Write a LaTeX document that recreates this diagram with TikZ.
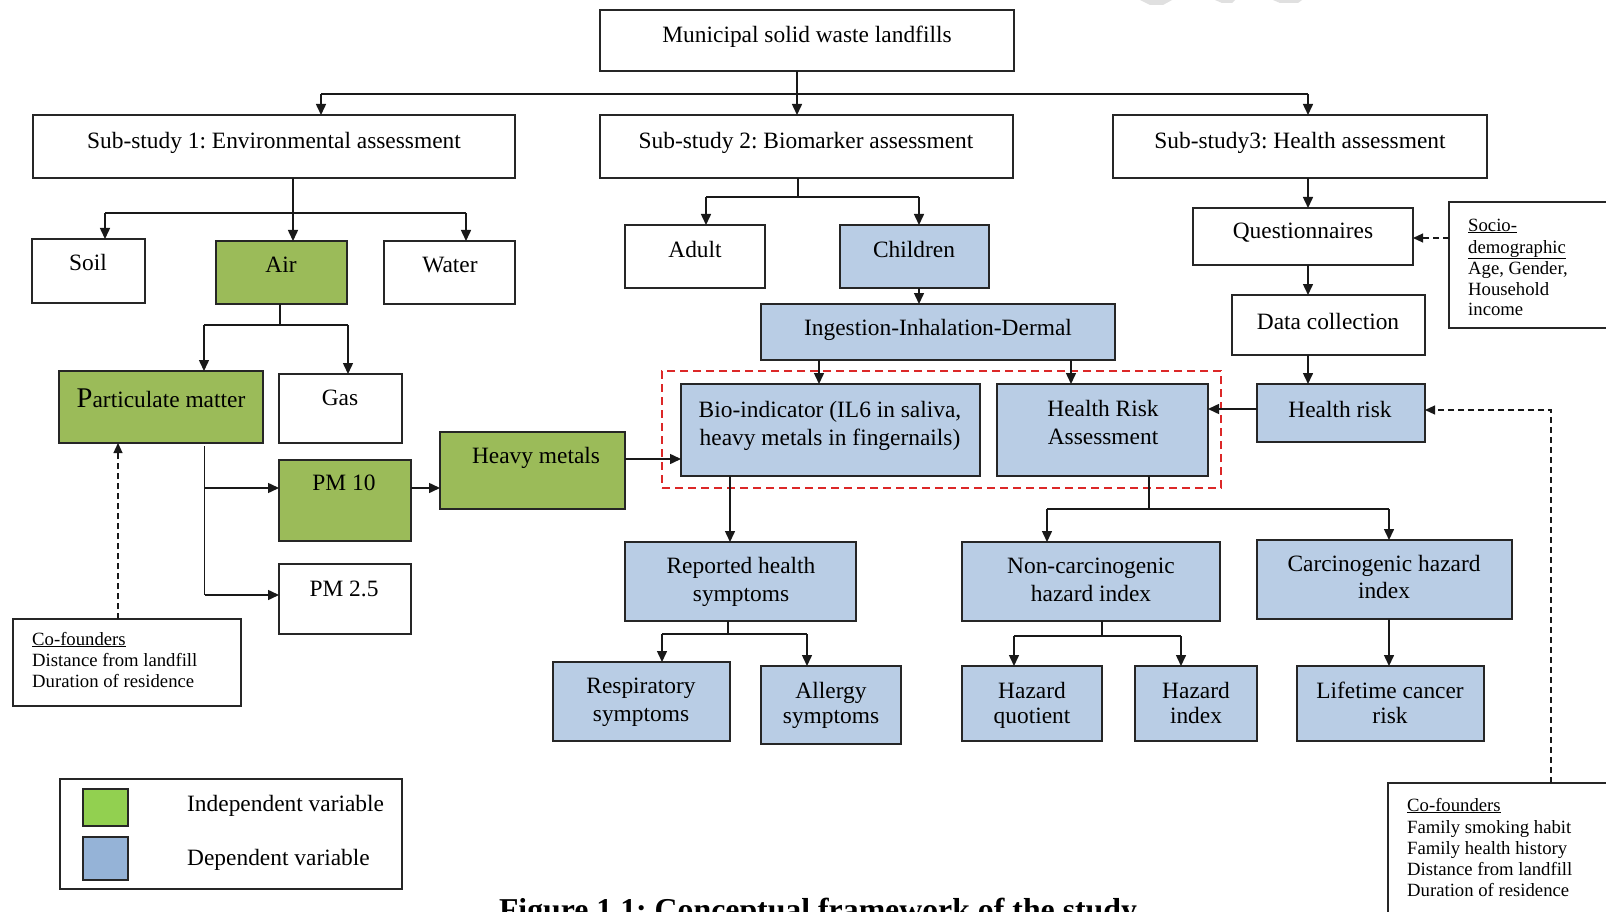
\documentclass[tikz,border=0pt]{standalone}
\usepackage{fontspec}
\setmainfont{Liberation Serif}
\usetikzlibrary{arrows.meta,calc}
\definecolor{grn}{RGB}{155,187,89}
\definecolor{blu}{RGB}{185,205,229}
\definecolor{lgrn}{RGB}{146,208,80}
\definecolor{lblu}{RGB}{149,179,215}
\definecolor{rd}{RGB}{220,40,40}
\frenchspacing
\newcommand\mainsz{\fontsize{23.4}{28}\selectfont}
\newcommand\smallsz{\fontsize{18.7}{21}\selectfont}
\newcommand\mybox[6]{\node[boxst,#6,minimum width={#4pt-#2pt},minimum height={#5pt-#3pt}] (#1) at ({(#2+#4)/2},{(#3+#5)/2}) {};}
\newcommand\mytext[4]{\node[txt] (#1) at (#2,#3) {#4};}
\newcommand\mysmall[4]{\node[stxt] (#1) at (#2,#3) {#4};}
\tikzset{
  boxst/.style={draw=black!85,line width=1.4pt,inner sep=0pt,outer sep=0pt,fill=white},
  gbox/.style={fill=grn},
  bbox/.style={fill=blu},
  wbox/.style={fill=white},
  redgroup/.style={draw=rd,fill=none,line width=1.8pt,dash pattern=on 8pt off 5pt},
  txt/.style={anchor=base,inner sep=0pt,font=\mainsz},
  stxt/.style={anchor=base west,inner sep=0pt,font=\smallsz},
  ln/.style={line width=1.5pt,draw=black!90},
  arr/.style={ln,-{Triangle[length=11pt,width=10pt]}},
  darr/.style={line width=1.2pt,draw=black!90,dash pattern=on 6pt off 4pt,-{Triangle[length=10pt,width=9pt]}},
}
\begin{document}
\begin{tikzpicture}[x=1pt,y=-1pt]
\useasboundingbox (0,0) rectangle (1606,912);
\fill[white] (0,0) rectangle (1606,912);
% faint watermark traces
\fill[black!12] (1140,0) -- (1172,0) -- (1163,5) -- (1150,5) -- cycle;
\fill[black!12] (1215,0) -- (1235,0) -- (1232,3) -- (1222,3) -- cycle;
\fill[black!12] (1273,0) -- (1302,0) -- (1298,3) -- (1280,3) -- cycle;

% red dashed group
\mybox{grp}{662}{371}{1221}{488}{redgroup}

% boxes
\mybox{muni}{600}{10}{1014}{71}{wbox}
\mybox{sub1}{33}{115}{515}{178}{wbox}
\mybox{sub2}{600}{115}{1013}{178}{wbox}
\mybox{sub3}{1113}{115}{1487}{178}{wbox}
\mybox{soil}{32}{239}{145}{303}{wbox}
\mybox{air}{216}{241}{347}{304}{gbox}
\mybox{water}{384}{241}{515}{304}{wbox}
\mybox{adult}{625}{225}{765}{288}{wbox}
\mybox{child}{840}{225}{989}{288}{bbox}
\mybox{ingest}{761}{304}{1115}{360}{bbox}
\mybox{quest}{1193}{208}{1413}{265}{wbox}
\mybox{socio}{1449}{202}{1612}{328}{wbox}
\mybox{datac}{1232}{295}{1425}{355}{wbox}
\mybox{bio}{681}{384}{980}{476}{bbox}
\mybox{hra}{997}{384}{1208}{476}{bbox}
\mybox{hrisk}{1257}{384}{1425}{442}{bbox}
\mybox{pm}{59}{371}{263}{443}{gbox}
\mybox{gas}{279}{374}{402}{443}{wbox}
\mybox{pmten}{279}{460}{411}{541}{gbox}
\mybox{heavy}{440}{432}{625}{509}{gbox}
\mybox{pmtwo}{279}{564}{411}{634}{wbox}
\mybox{cofl}{13}{619}{241}{706}{wbox}
\mybox{rep}{625}{542}{856}{621}{bbox}
\mybox{ncarc}{962}{542}{1220}{621}{bbox}
\mybox{carc}{1257}{540}{1512}{619}{bbox}
\mybox{resp}{553}{662}{730}{741}{bbox}
\mybox{allergy}{761}{666}{901}{744}{bbox}
\mybox{hq}{962}{666}{1102}{741}{bbox}
\mybox{hi}{1135}{666}{1257}{741}{bbox}
\mybox{life}{1297}{666}{1484}{741}{bbox}
\mybox{cofr}{1388}{783}{1612}{918}{wbox}
\mybox{legend}{60}{779}{402}{889}{wbox}
\mybox{lgsq}{83}{789}{128}{826}{fill=lgrn}
\mybox{lbsq}{83}{837}{128}{880}{fill=lblu}

% texts
\mytext{muniT}{807}{43}{Municipal solid waste landfills}
\mytext{sub1T}{274}{149}{Sub-study 1: Environmental assessment}
\mytext{sub2T}{806}{149}{Sub-study 2: Biomarker assessment}
\mytext{sub3T}{1300}{149}{Sub-study3: Health assessment}
\mytext{soilT}{88}{270}{Soil}
\mytext{airT}{281}{272}{Air}
\mytext{waterT}{450}{272}{Water}
\mytext{adultT}{695}{257}{Adult}
\mytext{childT}{914}{257}{Children}
\mytext{ingestT}{938}{335}{Ingestion-Inhalation-Dermal}
\mytext{questT}{1303}{239}{Questionnaires}
\mytext{datacT}{1328}{329}{Data collection}
\mytext{bioTa}{830}{417}{Bio-indicator (IL6 in saliva,}
\mytext{bioTb}{830}{445}{heavy metals in fingernails)}
\mytext{hraTa}{1103}{416}{Health Risk}
\mytext{hraTb}{1103}{444}{Assessment}
\mytext{hriskT}{1340}{417}{Health risk}
\mytext{pmT}{161}{407}{{\fontsize{28.5}{30}\selectfont P}articulate matter}
\mytext{gasT}{340}{405}{Gas}
\mytext{pmtenT}{344}{490}{PM 10}
\mytext{heavyT}{536}{463}{Heavy metals}
\mytext{pmtwoT}{344}{596}{PM 2.5}
\mytext{repTa}{741}{573}{Reported health}
\mytext{repTb}{741}{601}{symptoms}
\mytext{ncarcTa}{1091}{573}{Non-carcinogenic}
\mytext{ncarcTb}{1091}{601}{hazard index}
\mytext{carcTa}{1384}{571}{Carcinogenic hazard}
\mytext{carcTb}{1384}{598}{index}
\mytext{respTa}{641}{693}{Respiratory}
\mytext{respTb}{641}{721}{symptoms}
\mytext{allergyTa}{831}{698}{Allergy}
\mytext{allergyTb}{831}{723}{symptoms}
\mytext{hqTa}{1032}{698}{Hazard}
\mytext{hqTb}{1032}{723}{quotient}
\mytext{hiTa}{1196}{698}{Hazard}
\mytext{hiTb}{1196}{723}{index}
\mytext{lifeTa}{1390}{698}{Lifetime cancer}
\mytext{lifeTb}{1390}{723}{risk}
\node[txt,anchor=base west] (lgT1) at (187,811) {Independent variable};
\node[txt,anchor=base west] (lgT2) at (187,865) {Dependent variable};

\mysmall{socT1}{1468}{231}{\underline{Socio-}}
\mysmall{socT2}{1468}{253}{\underline{demographic}}
\mysmall{socT3}{1468}{274}{Age, Gender,}
\mysmall{socT4}{1468}{295}{Household}
\mysmall{socT5}{1468}{315}{income}
\mysmall{coflT1}{32}{645}{\underline{Co-founders}}
\mysmall{coflT2}{32}{666}{Distance from landfill}
\mysmall{coflT3}{32}{687}{Duration of residence}
\mysmall{cofrT1}{1407}{811}{\underline{Co-founders}}
\mysmall{cofrT2}{1407}{833}{Family smoking habit}
\mysmall{cofrT3}{1407}{854}{Family health history}
\mysmall{cofrT4}{1407}{875}{Distance from landfill}
\mysmall{cofrT5}{1407}{896}{Duration of residence}

\node[anchor=base,inner sep=0pt,font=\bfseries\fontsize{31.8}{34}\selectfont] (cap) at (818,920) {Figure 1.1: Conceptual framework of the study};

% connectors: top level
\coordinate (j0) at (797,94);
\coordinate (j0a) at (321,94);
\coordinate (j0c) at (1308,94);
\draw[ln] (muni.south -| j0) -- (j0);
\draw[ln] (j0a) -- (j0c);
\draw[arr] (j0a) -- (j0a |- sub1.north);
\draw[arr] (j0) -- (j0 |- sub2.north);
\draw[arr] (j0c) -- (j0c |- sub3.north);

% sub-study 1
\coordinate (j1) at (293,213);
\coordinate (j1a) at (105,213);
\coordinate (j1c) at (466,213);
\draw[ln] (sub1.south -| j1) -- (j1);
\draw[ln] (j1a) -- (j1c);
\draw[arr] (j1a) -- (j1a |- soil.north);
\draw[arr] (j1) -- (j1 |- air.north);
\draw[arr] (j1c) -- (j1c |- water.north);

% air
\coordinate (a0) at (280,325);
\coordinate (a1) at (204,325);
\coordinate (a2) at (348,325);
\draw[ln] (air.south -| a0) -- (a0);
\draw[ln] (a1) -- (a2);
\draw[arr] (a1) -- (a1 |- pm.north);
\draw[arr] (a2) -- (a2 |- gas.north);

% particulate matter
\coordinate (p0) at (204.5,446);
\coordinate (p1) at (204.5,488);
\coordinate (p2) at (204.5,595);
\draw[ln] (p0) -- (p2);
\draw[arr] (p1) -- (pmten.west |- p1);
\draw[arr] (p2) -- (pmtwo.west |- p2);
\draw[arr] (pmten.east |- p1) -- (heavy.west |- p1);
\coordinate (g459) at (0,459);
\draw[arr] (heavy.east |- g459) -- (bio.west |- g459);
\coordinate (d1) at (118,0);
\draw[darr] (cofl.north -| d1) -- (pm.south -| d1);

% sub-study 2
\coordinate (j2) at (798,197);
\coordinate (j2a) at (706,197);
\coordinate (j2b) at (919,197);
\draw[ln] (sub2.south -| j2) -- (j2);
\draw[ln] (j2a) -- (j2b);
\draw[arr] (j2a) -- (j2a |- adult.north);
\draw[arr] (j2b) -- (j2b |- child.north);
\draw[arr] (child.south -| j2b) -- (ingest.north -| j2b);
\coordinate (c819) at (819,0);
\coordinate (c1071) at (1071,0);
\draw[arr] (ingest.south -| c819) -- (bio.north -| c819);
\draw[arr] (ingest.south -| c1071) -- (hra.north -| c1071);

% sub-study 3
\coordinate (c1308) at (1308,0);
\draw[arr] (sub3.south -| c1308) -- (quest.north -| c1308);
\draw[arr] (quest.south -| c1308) -- (datac.north -| c1308);
\draw[arr] (datac.south -| c1308) -- (hrisk.north -| c1308);
\coordinate (g238) at (0,238);
\draw[darr] (socio.west |- g238) -- (quest.east |- g238);
\coordinate (g409) at (0,409);
\draw[arr] (hrisk.west |- g409) -- (hra.east |- g409);
\coordinate (d2) at (1551,410);
\draw[darr] (cofr.north -| d2) -- (d2) -- (hrisk.east |- d2);

% lower branches
\coordinate (c730) at (730,0);
\draw[arr] (bio.south -| c730) -- (rep.north -| c730);
\coordinate (h0) at (1149,509);
\coordinate (h1) at (1047,509);
\coordinate (h2) at (1389,509);
\draw[ln] (hra.south -| h0) -- (h0);
\draw[ln] (h1) -- (h2);
\draw[arr] (h1) -- (h1 |- ncarc.north);
\draw[arr] (h2) -- (h2 |- carc.north);
\coordinate (r0) at (728,634);
\coordinate (r1) at (662,634);
\coordinate (r2) at (807,634);
\draw[ln] (rep.south -| r0) -- (r0);
\draw[ln] (r1) -- (r2);
\draw[arr] (r1) -- (r1 |- resp.north);
\draw[arr] (r2) -- (r2 |- allergy.north);
\coordinate (n0) at (1102,636);
\coordinate (n1) at (1014,636);
\coordinate (n2) at (1181,636);
\draw[ln] (ncarc.south -| n0) -- (n0);
\draw[ln] (n1) -- (n2);
\draw[arr] (n1) -- (n1 |- hq.north);
\draw[arr] (n2) -- (n2 |- hi.north);
\draw[arr] (carc.south -| h2) -- (life.north -| h2);
\end{tikzpicture}
\end{document}
